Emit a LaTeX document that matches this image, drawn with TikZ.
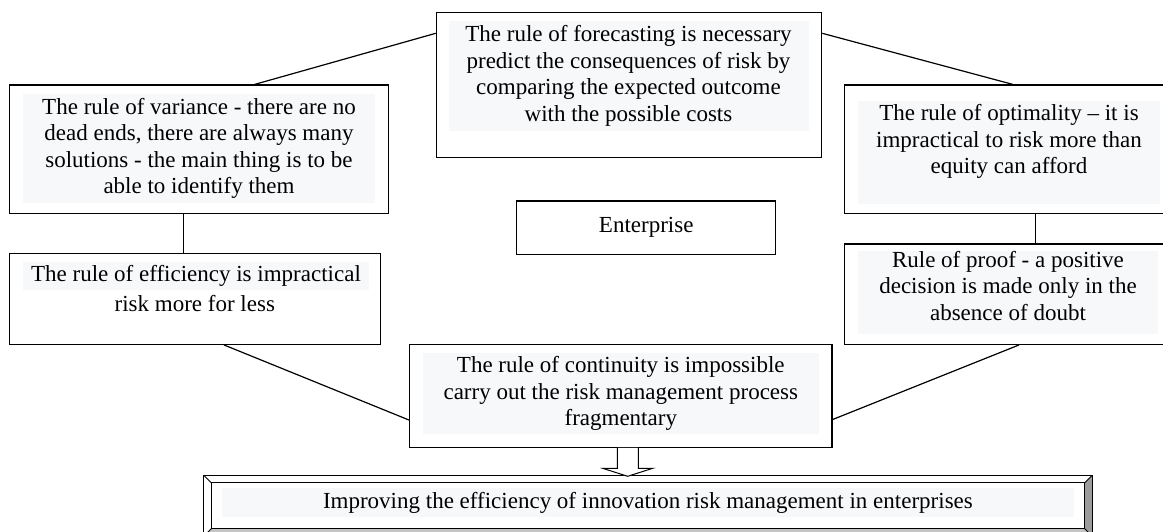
\documentclass[tikz,border=0pt]{standalone}
\usepackage{fontspec}
\setmainfont{Liberation Serif}
\definecolor{shadegray}{HTML}{F7F8FA}
\definecolor{bevelright}{HTML}{9C9C9C}
\definecolor{bevelbottom}{HTML}{C4C4C4}
\begin{document}
\begin{tikzpicture}[x=1pt,y=1pt,
    rulebox/.style={draw, line width=1.2pt, fill=white, inner sep=0pt,
      font=\fontsize{23}{26.5}\selectfont},
    ruletext/.style={fill=shadegray, inner sep=0pt, align=center,
      font=\fontsize{23}{26.5}\selectfont},
    link/.style={line width=1.2pt}]
  \useasboundingbox (0,0) rectangle (1163,-531);
  \draw
    (629,-85) node[rulebox, minimum width=385.3pt, minimum height=144.6pt] (fc){}
    (199,-149.2) node[rulebox, minimum width=378.8pt, minimum height=128.3pt] (var){}
    (1008.4,-149.2) node[rulebox, minimum width=327.3pt, minimum height=128.3pt] (opt){}
    (646.2,-227.7) node[rulebox, minimum width=259pt, minimum height=53.3pt] (ent){Enterprise}
    (195.2,-298.8) node[rulebox, minimum width=371.2pt, minimum height=91pt] (eff){}
    (1008.4,-294.2) node[rulebox, minimum width=327.3pt, minimum height=100.3pt] (prf){}
    (620.8,-395.8) node[rulebox, minimum width=422.5pt, minimum height=103pt] (cont){};
  \node[ruletext, minimum width=360pt, minimum height=110pt] (fc-text) at (628.5,-75.7)
    {The rule of forecasting is necessary\\predict the consequences of risk by\\comparing the expected outcome\\with the possible costs};
  \node[ruletext, minimum width=352pt, minimum height=108.4pt] (var-text) at (199,-148.5)
    {The rule of variance - there are no\\dead ends, there are always many\\solutions - the main thing is to be\\able to identify them};
  \node[ruletext, minimum width=302pt, minimum height=103.3pt] (opt-text) at (1009,-152.3)
    {The rule of optimality – it is\\impractical to risk more than\\equity can afford\\\mbox{}};
  \node[ruletext, minimum width=346pt, minimum height=28.3pt] (eff-text) at (196,-275.9)
    {The rule of efficiency is impractical};
  \node[ruletext, fill=none] (eff-more) at (194.8,-304) {risk more for less};
  \node[ruletext, minimum width=300pt, minimum height=81.6pt] (prf-text) at (1008,-292.5)
    {Rule of proof - a positive\\decision is made only in the\\absence of doubt\\[-13pt]\mbox{}};
  \node[ruletext, minimum width=396pt, minimum height=81.3pt] (cont-text) at (620.8,-393.4)
    {The rule of continuity is impossible\\carry out the risk management process\\fragmentary};
  \node[inner sep=0pt, minimum width=888pt, minimum height=60.5pt] (goal) at (648,-505.75) {};
  \fill[bevelright] (goal.north east) -- (goal.south east) -- ([shift={(-7.5,7.5)}]goal.south east)
    -- ([shift={(-7.5,-7.5)}]goal.north east) -- cycle;
  \fill[bevelbottom] (goal.south west) -- (goal.south east) -- ([shift={(-7.5,7.5)}]goal.south east)
    -- ([shift={(7.5,7.5)}]goal.south west) -- cycle;
  \begin{scope}[line width=1pt]
    \draw (goal.north west) rectangle (goal.south east);
    \draw ([shift={(7.5,-7.5)}]goal.north west) rectangle ([shift={(-7.5,7.5)}]goal.south east);
    \draw (goal.north west) -- ++(7.5,-7.5);
    \draw (goal.north east) -- ++(-7.5,-7.5);
    \draw (goal.south west) -- ++(7.5,7.5);
    \draw (goal.south east) -- ++(-7.5,7.5);
  \end{scope}
  \node[ruletext, minimum width=852pt, minimum height=29pt] (goal-text) at (647.9,-502.5)
    {Improving the efficiency of innovation risk management in enterprises};
  \begin{scope}[link]
    \draw ([xshift=55.5pt]var.north) to ([yshift=51.7pt]fc.west);
    \draw ([yshift=51.7pt]fc.east) to ([xshift=4.6pt]opt.north);
    \draw ([xshift=-15.3pt]var.south) to ([xshift=-15.3pt]var.south |- eff.north);
    \draw ([xshift=27pt]opt.south) to ([xshift=27pt]opt.south |- prf.north);
    \draw ([xshift=28.7pt]eff.south) to ([yshift=-24.2pt]cont.west);
    \draw ([xshift=10.6pt]prf.south) to ([yshift=-23.7pt]cont.east);
  \end{scope}
  \draw[line width=1pt, fill=white] ([xshift=-3.5pt]cont.south) -- ++(0,-20.4) -- ++(-14.6,0)
    -- ++(25,-8) -- ++(25,8) -- ++(-14.4,0) -- ++(0,20.4);
\end{tikzpicture}
\end{document}
